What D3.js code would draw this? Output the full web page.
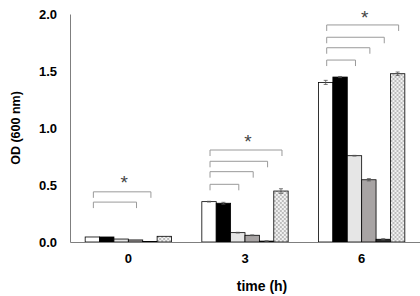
<!DOCTYPE html>
<html>
<head>
    <script src="https://d3js.org/d3.v7.min.js"></script>
    <style>
        body { margin: 0; background: #fff; }
        text { font-family: Arial, "Liberation Sans", sans-serif; }
        .axis text { font-size: 13px; font-weight: bold; fill: #000; }
    </style>
</head>
<body>
    <svg width="420" height="296"></svg>

    <script>
        const svg = d3.select("svg"),
              margin = { top: 14, right: 0, bottom: 54, left: 70 },
              width = 420, height = 296;

        // Data
        const times = ["0", "3", "6"];
        const strains = ["s1", "s2", "s3", "s4", "s5", "s6"];
        const means = [
            [0.044, 0.044, 0.026, 0.018, 0.005, 0.050],
            [0.354, 0.340, 0.082, 0.059, 0.008, 0.447],
            [1.400, 1.447, 0.757, 0.546, 0.024, 1.476]
        ];
        const errors = [
            [0, 0, 0, 0, 0, 0],
            [0.003, 0.008, 0.003, 0.003, 0.002, 0.02],
            [0.018, 0.005, 0.003, 0.01, 0.005, 0.015]
        ];
        const fills = ["#ffffff", "#000000", "#e6e6e6", "#a8a4a4", "#2a2a2a", "url(#dots)"];
        const yTicks = [0, 0.5, 1.0, 1.5, 2.0];

        // significance brackets: group, end bar, level; star level per group
        const brackets = [
            { g: 0, to: 3, y: 0.35 }, { g: 0, to: 4, y: 0.44 },
            { g: 1, to: 2, y: 0.506 }, { g: 1, to: 3, y: 0.617 }, { g: 1, to: 4, y: 0.708 }, { g: 1, to: 5, y: 0.807 },
            { g: 2, to: 2, y: 1.596 }, { g: 2, to: 3, y: 1.704 }, { g: 2, to: 4, y: 1.796 }, { g: 2, to: 5, y: 1.904 }
        ];
        const stars = [
            { g: 0, to: 4, y: 0.55 },
            { g: 1, to: 5, y: 0.915 },
            { g: 2, to: 5, y: 2.0 }
        ];

        const x0 = d3.scaleBand().domain(times)
            .range([margin.left, width - margin.right])
            .paddingInner(0.26).paddingOuter(0.13);
        const x1 = d3.scaleBand().domain(strains).range([0, x0.bandwidth()]);
        const y = d3.scaleLinear().domain([0, 2]).range([height - margin.bottom, margin.top]);

        // dotted pattern
        const pat = svg.append("defs").append("pattern")
            .attr("id", "dots").attr("patternUnits", "userSpaceOnUse")
            .attr("width", 4).attr("height", 4);
        pat.append("rect").attr("width", 4).attr("height", 4).attr("fill", "#f2f2f2");
        pat.append("rect").attr("width", 2).attr("height", 2).attr("fill", "#bdbdbd");
        pat.append("rect").attr("x", 2).attr("y", 2).attr("width", 2).attr("height", 2).attr("fill", "#bdbdbd");

        // axes
        svg.append("g")
            .attr("class", "axis")
            .attr("transform", `translate(${margin.left},0)`)
            .call(d3.axisLeft(y).tickValues(yTicks).tickFormat(d3.format(".1f")).tickSize(0).tickPadding(13))
            .call(g => g.select(".domain").attr("stroke", "#7f7f7f"));

        // bars
        const groups = svg.append("g").selectAll("g")
            .data(means)
            .enter().append("g")
            .attr("transform", (d, i) => `translate(${x0(times[i])},0)`);

        groups.selectAll("rect")
            .data((d, i) => d.map((v, j) => ({ v, j, e: errors[i][j] })))
            .enter().append("rect")
            .attr("x", d => x1(strains[d.j]))
            .attr("y", d => y(d.v))
            .attr("width", x1.bandwidth())
            .attr("height", d => y(0) - y(d.v))
            .attr("fill", d => fills[d.j])
            .attr("stroke", "#000")
            .attr("stroke-width", 0.8);

        // error bars
        groups.selectAll("path.err")
            .data((d, i) => d.map((v, j) => ({ v, j, e: errors[i][j] })).filter(d => d.e > 0))
            .enter().append("path")
            .attr("class", "err")
            .attr("fill", "none")
            .attr("stroke", "#555")
            .attr("stroke-width", 0.8)
            .attr("d", d => {
                const cx = x1(strains[d.j]) + x1.bandwidth() / 2;
                const a = y(d.v + d.e), b = y(d.v - d.e);
                return `M${cx - 2},${a}H${cx + 2}M${cx},${a}V${b}M${cx - 2},${b}H${cx + 2}`;
            });

        svg.append("g")
            .attr("class", "axis")
            .attr("transform", `translate(0,${y(0)})`)
            .call(d3.axisBottom(x0).tickSize(0).tickPadding(12))
            .call(g => g.select(".domain").attr("stroke", "#7f7f7f"));

        // brackets
        const cx = (g, j) => x0(times[g]) + x1(strains[j]) + x1.bandwidth() / 2;
        svg.append("g").selectAll("path")
            .data(brackets)
            .enter().append("path")
            .attr("fill", "none")
            .attr("stroke", "#9a9a9a")
            .attr("stroke-width", 1)
            .attr("d", d => {
                const x1p = cx(d.g, 0) + 1, x2p = cx(d.g, d.to) + 1, yy = y(d.y);
                return `M${x1p},${yy + 6}V${yy}H${x2p}V${yy + 6}`;
            });

        svg.append("g").selectAll("text")
            .data(stars)
            .enter().append("text")
            .attr("x", d => (cx(d.g, 0) + cx(d.g, d.to)) / 2 + 3)
            .attr("y", d => y(d.y) + 10)
            .attr("text-anchor", "middle")
            .attr("font-size", "19px")
            .attr("fill", "#444")
            .text("*");

        // axis titles
        svg.append("text")
            .attr("x", 262)
            .attr("y", 291)
            .attr("text-anchor", "middle")
            .attr("font-size", "14px")
            .attr("font-weight", "bold")
            .text("time (h)");

        svg.append("text")
            .attr("transform", `translate(20,${(y(0) + y(2)) / 2}) rotate(-90)`)
            .attr("text-anchor", "middle")
            .attr("font-size", "12.5px")
            .attr("font-weight", "bold")
            .text("OD (600 nm)");
    </script>
</body>
</html>
